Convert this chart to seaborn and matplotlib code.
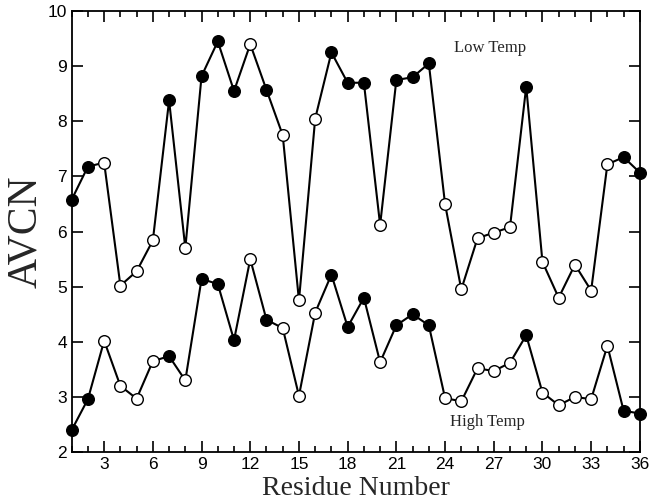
import numpy as np
import pandas as pd
import matplotlib
matplotlib.use('Agg')
import matplotlib.pyplot as plt
import seaborn as sns
from matplotlib.ticker import MultipleLocator

sns.set_theme(style='ticks')
plt.rcParams['font.family'] = ['Liberation Sans', 'DejaVu Sans']

# Data
residues = list(range(1, 37))
low_temp = [6.58, 7.18, 7.25, 5.02, 5.28, 5.84, 8.38, 5.70, 8.82, 9.45,
            8.55, 9.40, 8.57, 7.75, 4.75, 8.05, 9.25, 8.70, 8.70, 6.12,
            8.75, 8.80, 9.05, 6.50, 4.95, 5.88, 5.98, 6.08, 8.63, 5.45,
            4.80, 5.40, 4.93, 7.22, 7.35, 7.07]
high_temp = [2.40, 2.96, 4.02, 3.20, 2.97, 3.65, 3.74, 3.30, 5.14, 5.05,
             4.03, 5.50, 4.40, 4.25, 3.02, 4.53, 5.22, 4.27, 4.80, 3.63,
             4.30, 4.50, 4.30, 2.98, 2.92, 3.52, 3.47, 3.62, 4.12, 3.08,
             2.85, 3.00, 2.96, 3.93, 2.75, 2.70]
# 1 = filled circle, 0 = open circle
filled = [1, 1, 0, 0, 0, 0, 1, 0, 1, 1, 1, 0, 1, 0, 0, 0, 1, 1, 1, 0,
          1, 1, 1, 0, 0, 0, 0, 0, 1, 0, 0, 0, 0, 0, 1, 1]

df = pd.DataFrame({'Residue': residues, 'Low': low_temp, 'High': high_temp,
                   'Filled': filled})

fig, ax = plt.subplots(figsize=(6.7, 5.04), dpi=100)
fig.subplots_adjust(left=0.107, right=0.955, top=0.978, bottom=0.103)

for col in ['Low', 'High']:
    sns.lineplot(data=df, x='Residue', y=col, color='black', linewidth=1.5, ax=ax)
    sns.scatterplot(data=df[df['Filled'] == 1], x='Residue', y=col, s=70,
                    color='black', edgecolor='black', linewidth=1.0, ax=ax,
                    zorder=3, clip_on=False)
    sns.scatterplot(data=df[df['Filled'] == 0], x='Residue', y=col, s=70,
                    facecolor='white', edgecolor='black', linewidth=1.0, ax=ax,
                    zorder=3, clip_on=False)

ax.set_xlim(1, 36)
ax.set_ylim(2, 10)
ax.xaxis.set_major_locator(MultipleLocator(3))
ax.xaxis.set_minor_locator(MultipleLocator(1))
ax.yaxis.set_major_locator(MultipleLocator(1))
ax.tick_params(which='both', direction='in', top=True, right=True, width=1.2,
               colors='black', labelsize=12.5)
ax.tick_params(which='major', length=8)
ax.tick_params(which='minor', length=4)
for s in ax.spines.values():
    s.set_linewidth(1.3)
    s.set_color('black')

ax.set_xlabel('Residue Number', family='Liberation Serif', fontsize=20, labelpad=3)
ax.set_ylabel('AVCN', family='Liberation Serif', fontsize=30, labelpad=2)

ax.text(26.8, 9.33, 'Low Temp', family='Liberation Serif', fontsize=12,
        ha='center', va='center')
ax.text(26.6, 2.54, 'High Temp', family='Liberation Serif', fontsize=12,
        ha='center', va='center')

plt.savefig('out.png', dpi=100)
